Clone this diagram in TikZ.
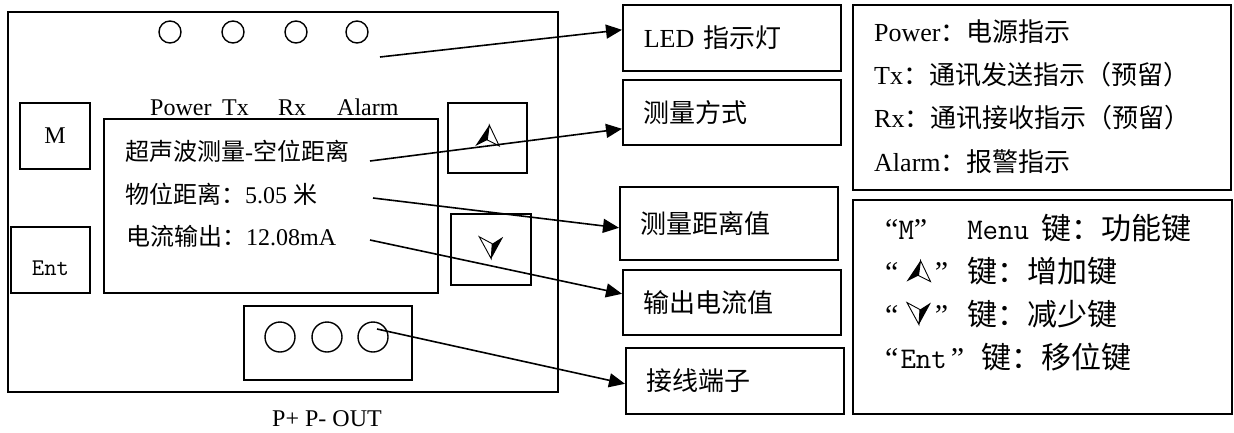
\documentclass[tikz,border=0pt]{standalone}
\usepackage{fontspec}
\setmainfont{Liberation Serif}
\newfontfamily\zh{Noto Sans CJK SC}
\usetikzlibrary{arrows.meta}

\newcommand\upglyph{\tikz[x=1pt,y=-1pt,line width=0.9pt]{%
    \fill (0,0)--(-14,21)--(-2,15)--cycle;
    \draw (0,0)--(-2,15)--(10,21)--cycle;}}
\newcommand\downglyph{\tikz[x=1pt,y=-1pt,line width=0.9pt]{%
    \draw (0,0)--(-12,-22)--(1,-15)--cycle;
    \fill (0,0)--(1,-15)--(12,-22)--cycle;}}

\begin{document}
\begin{tikzpicture}[x=1pt,y=-1pt,
    frame/.style={draw,line width=1.6pt,inner sep=0pt},
    lbl/.style={frame,minimum width=218pt,anchor=north west,text width=176pt,
        align=left,inner xsep=21pt,font=\fontsize{26}{30}\selectfont},
    lamp/.style={draw,line width=1.4pt,circle,minimum size=22pt,inner sep=0pt},
    pinhole/.style={draw,line width=1.4pt,circle,minimum size=30pt,inner sep=0pt},
    panelfont/.style={font=\fontsize{24}{28}\selectfont},
    txt/.style={anchor=base west,inner sep=0pt},
    arrow/.style={-{Triangle[length=16pt,width=14pt]},line width=1.6pt}
]
\useasboundingbox[fill=white] (0,0) rectangle (1234,432);

% front panel
\node[frame,minimum width=550pt,minimum height=380pt] (panel) at (283,202) {};
\foreach \x [count=\i] in {170,233,296,357}
    \node[lamp] (lamp\i) at (\x,32) {};
\foreach \x/\name in {150/Power,222/Tx,278/Rx,337/Alarm}
    \node[txt,panelfont] (name\name) at (\x,115) {\name};
\node[frame,minimum width=70pt,minimum height=66pt,panelfont] (mkey) at (55,136) {M};
\node[frame,minimum width=79pt,minimum height=66pt,panelfont,text height=31pt,text depth=0pt] (entkey) at (50.5,260) {\ttfamily Ent};
\node[frame,minimum width=79pt,minimum height=70pt] (upkey) at (487.5,138) {\raisebox{5pt}{\upglyph}};
\node[frame,minimum width=80pt,minimum height=71pt] (downkey) at (491,249.5) {\raisebox{3.5pt}{\downglyph}};

% display
\node[frame,minimum width=334pt,minimum height=174pt] (lcd) at (271,206) {};
\node[txt,panelfont] (lcd1) at (125,160) {\zh 超声波测量{\rmfamily -}空位距离};
\node[txt,panelfont] (lcd2) at (125,203) {{\zh 物位距离：}5.05 {\zh 米}};
\node[txt,panelfont] (lcd3) at (126,245) {{\zh 电流输出：}12.08mA};

% terminals
\node[frame,minimum width=168pt,minimum height=74pt] (block) at (328,343) {};
\foreach \x [count=\i] in {280,327,373}
    \node[pinhole] (pin\i) at (\x,337) {};
\node[panelfont,anchor=base,inner sep=0pt] (pinnames) at (327,426) {P+ P- OUT};

% labels
\node[lbl,minimum height=66pt] (ledlbl) at (622,4) {LED {\zh 指示灯}};
\node[lbl,minimum height=65pt] (modelbl) at (622,79) {\zh 测量方式};
\node[lbl,minimum height=73pt] (distlbl) at (619,186) {\zh 测量距离值};
\node[lbl,minimum height=65pt] (currlbl) at (622,269) {\zh 输出电流值};
\node[lbl,minimum height=66pt] (termlbl) at (625,347) {\zh 接线端子};

% notes
\node[frame,minimum width=378pt,minimum height=185pt,anchor=north west] (ledinfo) at (852,4) {};
\node[frame,minimum width=379pt,minimum height=214pt,anchor=north west] (keyinfo) at (852,199) {};
\foreach \row [count=\i] in {Power{\zh ：电源指示},Tx{\zh ：通讯发送指示（预留）},
        Rx{\zh ：通讯接收指示（预留）},Alarm{\zh ：报警指示}}
    \node[txt,font=\fontsize{26}{30}\selectfont] (ledrow\i) at (874,{41+43.4*(\i-1)}) {\row};
\foreach \row [count=\i] in {
        “{\ttfamily M}”\hspace{40pt}{\ttfamily Menu}\hspace{12pt}{\zh 键：功能键},
        “\hspace{8pt}\upglyph\hspace{4pt}”\hspace{19pt}{\zh 键：增加键},
        “\hspace{8pt}\downglyph\hspace{4pt}”\hspace{19pt}{\zh 键：减少键},
        “\hspace{2pt}{\ttfamily Ent}\hspace{4pt}”\hspace{17pt}{\zh 键：移位键}}
    \node[txt,font=\fontsize{30}{36}\selectfont] (keyrow\i) at (885,{239+43*(\i-1)}) {\row};

% connectors
\coordinate (ledsrc) at (380,57);
\coordinate (modesrc) at (370,161);
\coordinate (distsrc) at (373,198);
\coordinate (currsrc) at (370,240);
\coordinate (termsrc) at (377,329);
\draw[arrow] (ledsrc) -- ([yshift=8pt]ledlbl.west);
\draw[arrow] (modesrc) -- ([yshift=-16.5pt]modelbl.west);
\draw[arrow] (distsrc) -- ([yshift=-4.5pt]distlbl.west);
\draw[arrow] (currsrc) -- ([yshift=8.5pt]currlbl.west);
\draw[arrow] (termsrc) -- ([yshift=-3pt]termlbl.west);
\end{tikzpicture}
\end{document}
